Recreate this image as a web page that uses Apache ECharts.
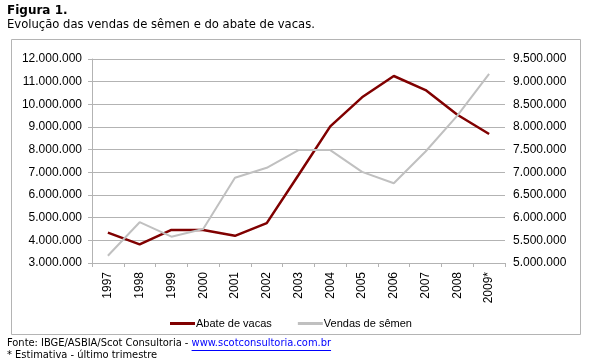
<!DOCTYPE html>
<html><head><meta charset="utf-8">
<script src="https://cdn.jsdelivr.net/npm/echarts@6/dist/echarts.min.js"></script>
<style>html,body{margin:0;padding:0;background:#fff}#c{width:590px;height:364px}</style>
</head><body><div id="c"></div>
<script>
// ---- data ----
const years = ['1997','1998','1999','2000','2001','2002','2003','2004','2005','2006','2007','2008','2009*'];
const abateVacas = [4340000, 3820000, 4460000, 4460000, 4200000, 4760000, 6880000, 9030000, 10310000, 11250000, 10630000, 9540000, 8690000];
const vendasSemen = [5160000, 5900000, 5580000, 5750000, 6880000, 7100000, 7490000, 7490000, 7010000, 6760000, 7460000, 8250000, 9170000];
const leftAxisRange = [3000000, 12000000, 1000000];
const rightAxisRange = [5000000, 9500000, 500000];
const seriesNames = ['Abate de vacas', 'Vendas de sêmen'];
const titleText = 'Figura 1.';
const subtitleText = 'Evolução das vendas de sêmen e do abate de vacas.';
const sourceText = 'Fonte: IBGE/ASBIA/Scot Consultoria - ';
const sourceLink = 'www.scotconsultoria.com.br';
const noteText = '* Estimativa - último trimestre';

function fmt(v){ return String(v).replace(/\B(?=(\d{3})+(?!\d))/g, '.'); }
const footFont = '11px "DejaVu Sans Condensed", "DejaVu Sans"';
const cv = document.createElement('canvas').getContext('2d');
cv.font = footFont;
const srcW = cv.measureText(sourceText).width;
const linkW = cv.measureText(sourceLink).width;

const gridColor = '#b3b3b3';
const chart = echarts.init(document.getElementById('c'), null, {renderer:'canvas'});
chart.setOption({
  backgroundColor:'#fff',
  animation:false,
  grid:{left:92, right:85, top:59, bottom:101, containLabel:false},
  legend:{
    left:170, top:318, padding:0, icon:'rect', itemWidth:25, itemHeight:3, itemGap:26,
    textStyle:{fontFamily:'Liberation Sans', fontSize:11, color:'#000', padding:[0,0,0,-4]},
    data:seriesNames
  },
  xAxis:{
    type:'category', data:years, boundaryGap:true,
    axisLine:{show:true, lineStyle:{color:gridColor, width:1}},
    axisTick:{show:true, length:4, lineStyle:{color:gridColor}},
    axisLabel:{rotate:90, margin:9, interval:0, fontFamily:'Liberation Sans', fontSize:12, color:'#000'}
  },
  yAxis:[
    {type:'value', min:leftAxisRange[0], max:leftAxisRange[1], interval:leftAxisRange[2], position:'left',
     axisLine:{show:true, lineStyle:{color:gridColor}},
     axisTick:{show:true, length:4, lineStyle:{color:gridColor}},
     splitLine:{show:true, lineStyle:{color:gridColor, width:1}},
     axisLabel:{margin:10, fontFamily:'Liberation Sans', fontSize:12, color:'#000', formatter:fmt}},
    {type:'value', min:rightAxisRange[0], max:rightAxisRange[1], interval:rightAxisRange[2], position:'right',
     axisLine:{show:false},
     axisTick:{show:false},
     splitLine:{show:false},
     axisLabel:{margin:8, fontFamily:'Liberation Sans', fontSize:12, color:'#000', formatter:fmt}}
  ],
  series:[
    {name:seriesNames[0], type:'line', yAxisIndex:0, data:abateVacas, symbol:'none',
     lineStyle:{color:'#800000', width:2.5}, itemStyle:{color:'#800000'}},
    {name:seriesNames[1], type:'line', yAxisIndex:1, data:vendasSemen, symbol:'none',
     lineStyle:{color:'#c0c0c0', width:2}, itemStyle:{color:'#c0c0c0'}}
  ],
  graphic:[
    {type:'rect', shape:{x:11.5, y:39.5, width:569, height:295}, style:{fill:'none', stroke:'#b4b4b4', lineWidth:1}, z:-1},
    {type:'text', left:7, top:5, style:{text:titleText, font:'bold 12px "DejaVu Sans"', fill:'#000'}},
    {type:'text', left:7, top:19, style:{text:subtitleText, font:'11.6px "DejaVu Sans"', fill:'#000'}},
    {type:'text', left:7, top:338, style:{text:sourceText, font:footFont, fill:'#000'}},
    {type:'text', left:7+srcW, top:338, style:{text:sourceLink, font:footFont, fill:'#0000ff'}},
    {type:'line', shape:{x1:7+srcW, y1:350.5, x2:7+srcW+linkW, y2:350.5}, style:{stroke:'#0000ff', lineWidth:1}},
    {type:'text', left:7, top:350, style:{text:noteText, font:footFont, fill:'#000'}}
  ]
});
</script></body></html>
